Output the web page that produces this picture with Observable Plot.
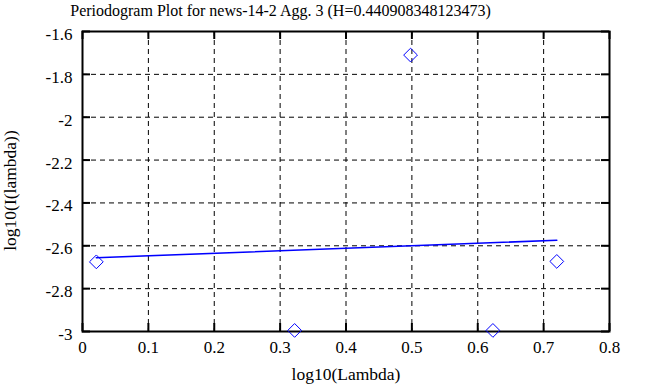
<!DOCTYPE html>
<html>
<head>
<meta charset="utf-8">
<script src="https://cdn.jsdelivr.net/npm/d3@7"></script>
<script src="https://cdn.jsdelivr.net/npm/@observablehq/plot@0.6"></script>
<style>
  html, body { margin: 0; padding: 0; background: white; }
  #chart svg, #chart svg text { font-family: 'Liberation Serif', 'DejaVu Serif', serif !important; }
</style>
</head>
<body>
<div id="chart"></div>
<script>
const title = "Periodogram Plot for news-14-2 Agg. 3 (H=0.440908348123473)";
const xLabel = "log10(Lambda)";
const yLabel = "log10(I(lambda))";

const pointX = [0.021, 0.322, 0.498, 0.623, 0.720];
const pointY = [-2.675, -2.995, -1.710, -2.995, -2.673];

const fitX = [0.021, 0.720];
const fitY = [-2.656, -2.574];

const xTicks = [0, 0.1, 0.2, 0.3, 0.4, 0.5, 0.6, 0.7, 0.8];
const xTickLabels = ["0", "0.1", "0.2", "0.3", "0.4", "0.5", "0.6", "0.7", "0.8"];
const yTicks = [-3, -2.8, -2.6, -2.4, -2.2, -2, -1.8, -1.6];
const yTickLabels = ["-3", "-2.8", "-2.6", "-2.4", "-2.2", "-2", "-1.8", "-1.6"];

const points = pointX.map((x, i) => ({x, y: pointY[i]}));
const fit = fitX.map((x, i) => ({x, y: fitY[i]}));
const xGrid = xTicks.slice(1, -1);
const yGrid = yTicks.slice(1, -1);

const W = 647, H = 387, ML = 82, MR = 38, MT = 31, MB = 56;
const PW = W - ML - MR, PH = H - MT - MB;
const TL = 8;
const FF = "'Liberation Serif', 'DejaVu Serif', serif";

const chart = Plot.plot({
  width: W, height: H,
  marginLeft: ML, marginRight: MR, marginTop: MT, marginBottom: MB,
  style: {fontFamily: FF, fontSize: "16px", background: "white", color: "black"},
  x: {domain: [0, 0.8]},
  y: {domain: [-3, -1.6]},
  marks: [
    Plot.ruleX(xGrid, {stroke: "black", strokeWidth: 1, strokeDasharray: "5,4"}),
    Plot.ruleY(yGrid, {stroke: "black", strokeWidth: 1, strokeDasharray: "5,4"}),
    Plot.ruleX(xTicks, {stroke: "black", strokeWidth: 2, insetTop: PH - TL}),
    Plot.ruleX(xTicks, {stroke: "black", strokeWidth: 2, insetBottom: PH - TL}),
    Plot.ruleY(yTicks, {stroke: "black", strokeWidth: 2, insetRight: PW - TL}),
    Plot.ruleY(yTicks, {stroke: "black", strokeWidth: 2, insetLeft: PW - TL}),
    Plot.frame({stroke: "black", strokeWidth: 2}),
    Plot.axisX({ticks: xTicks, tickSize: 0, tickPadding: 9, tickFormat: (d) => xTickLabels[xTicks.indexOf(d)], label: null, fontSize: 17, fontFamily: FF}),
    Plot.axisY({ticks: yTicks, tickSize: 0, tickPadding: 10, dy: 3, tickFormat: (d) => yTickLabels[yTicks.indexOf(d)], label: null, fontSize: 17, fontFamily: FF}),
    Plot.line(fit, {x: "x", y: "y", stroke: "#0000ff", strokeWidth: 1.6}),
    Plot.dot(points, {x: "x", y: "y", symbol: "diamond2", r: 6.2, stroke: "#0000ff", strokeWidth: 1, fill: "none"}),
    Plot.text([title], {frameAnchor: "top-left", dx: 198, dy: -21, text: (d) => d, textAnchor: "middle", lineAnchor: "middle", fontSize: 16, fontFamily: FF}),
    Plot.text([xLabel], {frameAnchor: "bottom", dy: 43, text: (d) => d, textAnchor: "middle", lineAnchor: "middle", fontSize: 17.5, fontFamily: FF}),
    Plot.text([yLabel], {frameAnchor: "left", dx: -72, dy: 9, rotate: -90, text: (d) => d, textAnchor: "middle", lineAnchor: "middle", fontSize: 17.5, fontFamily: FF})
  ]
});
document.getElementById("chart").appendChild(chart);
</script>
</body>
</html>
